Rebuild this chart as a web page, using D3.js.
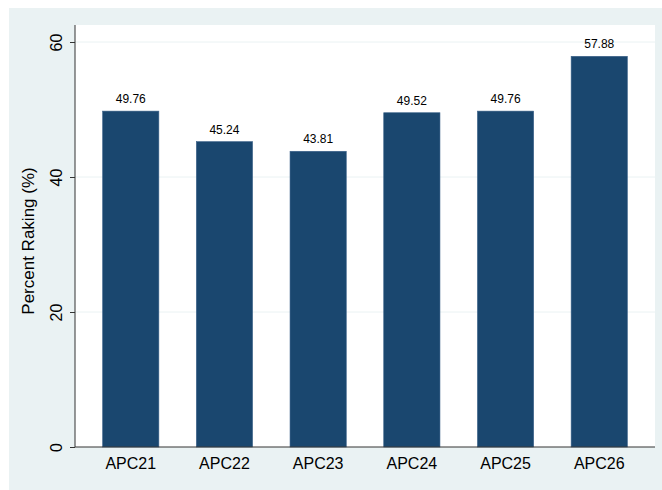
<!DOCTYPE html>
<html>
<head>
<meta charset="utf-8">
<script src="https://cdn.jsdelivr.net/npm/d3@7"></script>
<style>
  html, body { margin: 0; padding: 0; background: #ffffff; }
  svg { display: block; }
  text { font-family: "Liberation Sans", Arial, Helvetica, sans-serif; fill: #000; }
</style>
</head>
<body>
<svg id="chart" width="662" height="490"></svg>
<script>
const categories = ["APC21", "APC22", "APC23", "APC24", "APC25", "APC26"];
const values = [49.76, 45.24, 43.81, 49.52, 49.76, 57.88];
const valueLabels = ["49.76", "45.24", "43.81", "49.52", "49.76", "57.88"];
const yTicks = [0, 20, 40, 60];
const yTitle = "Percent Raking (%)";

const W = 662, H = 490;
const plot = { left: 75, right: 655, top: 25, bottom: 447 };

const svg = d3.select("#chart");

// outer graph region
svg.append("rect")
  .attr("x", 9).attr("y", 8)
  .attr("width", W - 9).attr("height", H - 8)
  .attr("fill", "#eaf2f3");

// plot region
svg.append("rect")
  .attr("x", plot.left).attr("y", plot.top)
  .attr("width", plot.right - plot.left).attr("height", plot.bottom - plot.top)
  .attr("fill", "#ffffff");

const x = d3.scaleBand()
  .domain(categories)
  .range([plot.left, plot.right])
  .paddingInner(0.4)
  .paddingOuter(0.295);

const y = d3.scaleLinear()
  .domain([0, (plot.bottom - plot.top) / 6.75])
  .range([plot.bottom, plot.top]);

// gridlines
svg.append("g")
  .selectAll("line")
  .data(yTicks.filter(d => d > 0))
  .join("line")
  .attr("x1", plot.left).attr("x2", plot.right)
  .attr("y1", d => y(d)).attr("y2", d => y(d))
  .attr("stroke", "#eaf2f3")
  .attr("stroke-width", 1);

// bars
svg.append("g")
  .selectAll("rect")
  .data(categories)
  .join("rect")
  .attr("x", d => x(d))
  .attr("width", x.bandwidth())
  .attr("y", (d, i) => y(values[i]))
  .attr("height", (d, i) => y(0) - y(values[i]))
  .attr("fill", "#1a476f")
  .attr("stroke", "#3a6189")
  .attr("stroke-width", 0.6);

// value labels
svg.append("g")
  .selectAll("text")
  .data(categories)
  .join("text")
  .attr("x", d => x(d) + x.bandwidth() / 2)
  .attr("y", (d, i) => y(values[i]) - 8)
  .attr("text-anchor", "middle")
  .attr("font-size", "12px")
  .attr("fill", "#111")
  .text((d, i) => valueLabels[i]);

// y axis
const yAxis = d3.axisLeft(y)
  .tickValues(yTicks)
  .tickSize(5)
  .tickPadding(8)
  .tickFormat(d3.format("d"));
const gy = svg.append("g")
  .attr("transform", `translate(${plot.left},0)`)
  .call(yAxis);
gy.select(".domain").attr("stroke", "#333").attr("d", `M0,${plot.top}V${plot.bottom}`);
gy.selectAll(".tick line").attr("stroke", "#333");
gy.selectAll(".tick text")
  .attr("font-size", "16px")
  .attr("font-family", "Liberation Sans, Arial, sans-serif")
  .attr("fill", "#111")
  .attr("text-anchor", "middle")
  .attr("dy", null)
  .attr("x", null)
  .attr("transform", "translate(-13,0) rotate(-90)");

// x axis
const xAxis = d3.axisBottom(x).tickSize(0).tickPadding(22);
const gx = svg.append("g")
  .attr("transform", `translate(0,${plot.bottom})`)
  .call(xAxis);
gx.select(".domain").attr("stroke", "#333").attr("d", `M${plot.left},0H${plot.right}`);
gx.selectAll(".tick text")
  .attr("font-size", "16px")
  .attr("font-family", "Liberation Sans, Arial, sans-serif")
  .attr("fill", "#111")
  .attr("dy", null)
  .attr("y", 22);

// y title
svg.append("text")
  .attr("transform", `translate(34,241) rotate(-90)`)
  .attr("text-anchor", "middle")
  .attr("font-size", "17px")
  .attr("fill", "#111")
  .text(yTitle);
</script>
</body>
</html>
